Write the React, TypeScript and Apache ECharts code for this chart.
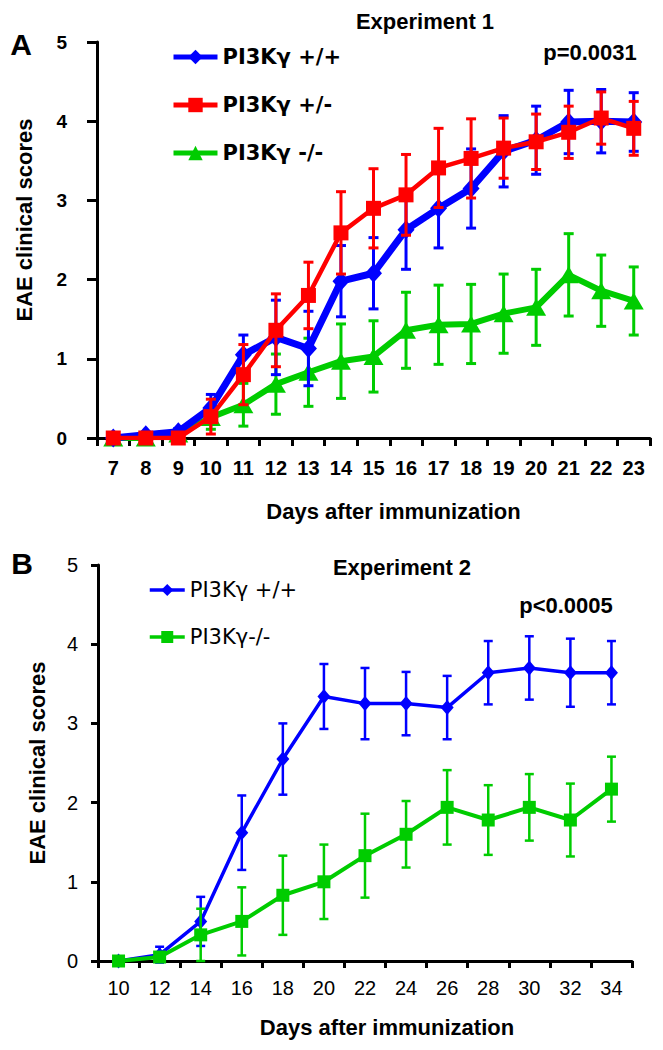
import React, { useEffect, useRef } from "react";
import * as echarts from "echarts";

// ---------- Panel A (Experiment 1) ----------
const daysA = ["7", "8", "9", "10", "11", "12", "13", "14", "15", "16", "17", "18", "19", "20", "21", "22", "23"];
const wtA = [0, 0.04, 0.08, 0.38, 1.05, 1.27, 1.13, 1.98, 2.08, 2.63, 2.9, 3.15, 3.62, 3.76, 3.99, 4.0, 3.99];
const wtAErr = [0, 0, 0.04, 0.17, 0.25, 0.47, 0.47, 0.45, 0.45, 0.5, 0.5, 0.5, 0.45, 0.43, 0.4, 0.4, 0.37];
const hetA = [0, 0, 0, 0.27, 0.8, 1.36, 1.8, 2.59, 2.9, 3.07, 3.41, 3.53, 3.66, 3.74, 3.86, 4.04, 3.91];
const hetAErr = [0, 0, 0, 0.22, 0.38, 0.46, 0.42, 0.52, 0.5, 0.51, 0.5, 0.5, 0.38, 0.35, 0.33, 0.33, 0.34];
const koA = [0, 0, 0.05, 0.26, 0.42, 0.68, 0.83, 0.97, 1.03, 1.36, 1.43, 1.44, 1.57, 1.65, 2.06, 1.86, 1.73];
const koAErr = [0, 0, 0.03, 0.15, 0.27, 0.38, 0.43, 0.47, 0.45, 0.48, 0.5, 0.5, 0.5, 0.48, 0.52, 0.45, 0.43];

// ---------- Panel B (Experiment 2) ----------
const daysB = ["10", "12", "14", "16", "18", "20", "22", "24", "26", "28", "30", "32", "34"];
const wtB = [0, 0.08, 0.5, 1.62, 2.55, 3.34, 3.25, 3.25, 3.2, 3.64, 3.7, 3.64, 3.64];
const wtBErr = [0, 0.1, 0.31, 0.47, 0.45, 0.41, 0.45, 0.4, 0.4, 0.4, 0.4, 0.43, 0.4];
const koB = [0, 0.05, 0.33, 0.5, 0.83, 1.0, 1.33, 1.6, 1.94, 1.78, 1.94, 1.78, 2.17];
const koBErr = [0, 0.04, 0.33, 0.43, 0.5, 0.47, 0.53, 0.42, 0.47, 0.44, 0.42, 0.46, 0.41];

const yTicks = [0, 1, 2, 3, 4, 5];

const BLUE = "#0000ff";
const RED = "#ff0000";
const GREEN = "#00cc00";
const FONT = "Liberation Sans";

function errData(vals: number[], errs: number[]) {
  return vals
    .map((v, i) => [i, v - errs[i], v + errs[i]])
    .filter((_, i) => errs[i] > 0);
}

function errSeries(data: number[][], color: string, lw: number, cap: number, axis: number, z: number) {
  return {
    type: "custom",
    xAxisIndex: axis,
    yAxisIndex: axis,
    silent: true,
    z,
    encode: { x: 0, y: [1, 2] },
    data,
    renderItem: (params: any, api: any) => {
      const x = api.value(0);
      const top = api.coord([x, api.value(2)]);
      const bot = api.coord([x, api.value(1)]);
      const h = cap / 2;
      const style = { stroke: color, lineWidth: lw };
      return {
        type: "group",
        children: [
          { type: "line", shape: { x1: top[0], y1: top[1], x2: bot[0], y2: bot[1] }, style },
          { type: "line", shape: { x1: top[0] - h, y1: top[1], x2: top[0] + h, y2: top[1] }, style },
          { type: "line", shape: { x1: bot[0] - h, y1: bot[1], x2: bot[0] + h, y2: bot[1] }, style },
        ],
      };
    },
  };
}

function lineSeries(name: string, data: number[], color: string, lw: number, symbol: string, size: any, axis: number, z: number) {
  return {
    type: "line",
    name,
    data,
    xAxisIndex: axis,
    yAxisIndex: axis,
    z,
    symbol,
    symbolSize: size,
    showAllSymbol: true,
    lineStyle: { color, width: lw },
    itemStyle: { color, borderWidth: 0 },
  };
}

const NAME_A = ["PI3Kγ +/+", "PI3Kγ +/-", "PI3Kγ -/-"];
const NAME_B = ["B: PI3Kγ +/+", "B: PI3Kγ-/-"];

function makeAxes(idx: number, cats: string[], bold: boolean, opts: any) {
  const x = {
    type: "category",
    gridIndex: idx,
    data: cats,
    boundaryGap: true,
    axisLine: { lineStyle: { color: "#000", width: 3 } },
    axisTick: { show: true, interval: 0, length: opts.xTick, lineStyle: { color: "#000", width: 3 } },
    axisLabel: {
      interval: 0,
      color: "#000",
      fontFamily: FONT,
      fontSize: 20,
      fontWeight: bold ? "bold" : "normal",
      margin: opts.xMargin,
    },
    name: "Days after immunization",
    nameLocation: "middle",
    nameGap: opts.xNameGap,
    nameTextStyle: {
      color: "#000",
      fontFamily: FONT,
      fontSize: 22,
      fontWeight: "bold",
      padding: [0, 0, 0, opts.xNameShift],
    },
  };
  const y = {
    type: "value",
    gridIndex: idx,
    min: 0,
    max: 5,
    interval: 1,
    splitLine: { show: false },
    axisLine: { show: true, lineStyle: { color: "#000", width: 3 } },
    axisTick: { show: true, length: opts.yTick, lineStyle: { color: "#000", width: 3 } },
    axisLabel: {
      color: "#000",
      fontFamily: FONT,
      fontSize: bold ? 19 : 20,
      fontWeight: bold ? "bold" : "normal",
      margin: opts.yMargin,
      formatter: (v: number) => (yTicks.includes(v) ? String(v) : ""),
    },
    name: "EAE clinical scores",
    nameLocation: "middle",
    nameGap: opts.yNameGap,
    nameRotate: 90,
    nameTextStyle: {
      color: "#000",
      fontFamily: FONT,
      fontSize: 22,
      fontWeight: "bold",
      padding: [0, 0, 0, opts.yNameShift],
    },
  };
  return { x, y };
}

const axA = makeAxes(0, daysA, true, { xTick: 8, xMargin: 20, xNameGap: 62, xNameShift: 40, yTick: 10, yMargin: 30, yNameGap: 62, yNameShift: 40 });
const axB = makeAxes(1, daysB, false, { xTick: 7, xMargin: 17, xNameGap: 55, xNameShift: 44, yTick: 7, yMargin: 20, yNameGap: 50, yNameShift: 0 });

function txt(text: string, x: number, y: number, size: number) {
  return {
    type: "text",
    x,
    y,
    style: {
      text,
      fill: "#000",
      font: `bold ${size}px "${FONT}"`,
      textAlign: "center",
      textVerticalAlign: "middle",
    },
  };
}

const option: any = {
  animation: false,
  backgroundColor: "#fff",
  grid: [
    { left: 97, top: 42, width: 553, height: 396 },
    { left: 98, top: 565, width: 534, height: 396 },
  ],
  xAxis: [axA.x, axB.x],
  yAxis: [axA.y, axB.y],
  legend: [
    {
      data: NAME_A,
      orient: "vertical",
      left: 166,
      top: 41,
      itemWidth: 44,
      itemHeight: 18,
      itemGap: 26,
      selectedMode: false,
      lineStyle: { width: 5 },
      textStyle: { color: "#000", fontFamily: "DejaVu Sans", fontWeight: "bold", fontSize: 21, lineHeight: 22 },
    },
    {
      data: NAME_B,
      orient: "vertical",
      left: 143,
      top: 574,
      itemWidth: 35,
      itemHeight: 15,
      itemGap: 25,
      selectedMode: false,
      lineStyle: { width: 3.5 },
      formatter: (n: string) => n.replace("B: ", ""),
      textStyle: { color: "#000", fontFamily: "DejaVu Sans", fontWeight: "normal", fontSize: 21, lineHeight: 22 },
    },
  ],
  graphic: [
    txt("A", 21, 44, 30),
    txt("Experiment 1", 425, 21, 22),
    txt("p=0.0031", 590, 52, 22),
    txt("B", 22, 563, 30),
    txt("Experiment 2", 402, 567, 22),
    txt("p<0.0005", 566, 605, 22),
  ],
  series: [
    errSeries(errData(koA, koAErr), GREEN, 3, 10, 0, 2),
    lineSeries(NAME_A[2], koA, GREEN, 6, "triangle", [20, 17], 0, 3),
    errSeries(errData(wtA, wtAErr), BLUE, 3, 10, 0, 4),
    lineSeries(NAME_A[0], wtA, BLUE, 7, "diamond", [17, 19], 0, 5),
    errSeries(errData(hetA, hetAErr), RED, 3, 10, 0, 6),
    lineSeries(NAME_A[1], hetA, RED, 4.5, "rect", 15, 0, 7),

    errSeries(errData(wtB, wtBErr), BLUE, 2.5, 9, 1, 2),
    lineSeries(NAME_B[0], wtB, BLUE, 3.5, "diamond", [13, 15], 1, 3),
    errSeries(errData(koB, koBErr), GREEN, 2.5, 9, 1, 4),
    lineSeries(NAME_B[1], koB, GREEN, 4, "rect", 13, 1, 5),
  ],
};

export default function App() {
  const ref = useRef<HTMLDivElement>(null);
  useEffect(() => {
    const chart = echarts.init(ref.current as HTMLDivElement, null, { renderer: "svg" });
    chart.setOption(option);
    return () => chart.dispose();
  }, []);
  return (
    <div
      ref={ref}
      style={{ position: "absolute", left: 0, top: 0, width: 663, height: 1050, background: "#fff" }}
    />
  );
}
